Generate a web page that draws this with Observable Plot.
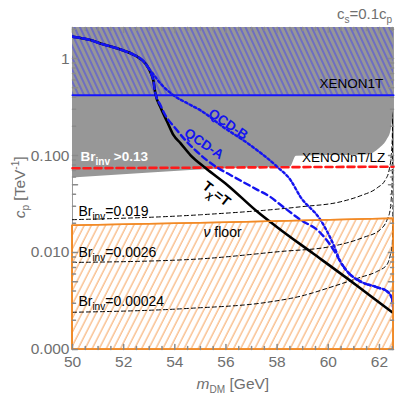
<!DOCTYPE html>
<html><head><meta charset="utf-8">
<script src="https://cdn.jsdelivr.net/npm/d3@7"></script>
<script src="https://cdn.jsdelivr.net/npm/@observablehq/plot@0.6"></script>
<style>body{margin:0;background:#fff}</style>
</head><body><div id="chart"></div>
<script>
// ---- axes ----
const xDomain = [50, 62.55];
const yDomain = [0.001, 2.09];
const xTicks = [50, 52, 54, 56, 58, 60, 62];
const xMinor = [50.5, 51, 51.5, 52.5, 53, 53.5, 54.5, 55, 55.5, 56.5, 57, 57.5, 58.5, 59, 59.5, 60.5, 61, 61.5, 62.5];
const yTicks = [0.001, 0.005, 0.01, 0.05, 0.1, 0.5, 1];
const yTickLabels = ["0.000", "0.005", "0.010", "0.050", "0.100", "0.500", "1"];
const yMinor = [0.002, 0.003, 0.004, 0.006, 0.007, 0.008, 0.009, 0.02, 0.03, 0.04, 0.06, 0.07, 0.08, 0.09, 0.2, 0.3, 0.4, 0.6, 0.7, 0.8, 0.9, 2];

// ---- curves ----
const blackM = [50, 50.7, 51.09, 51.88, 52.46, 52.85, 53.05, 53.16, 53.24, 53.44, 53.71, 53.95, 54.22, 54.61, 55.2, 56.05, 57.23, 58.13, 59.41, 60.74, 61.64, 62.5];
const blackC = [1.68, 1.55, 1.43, 1.24, 1.07, 0.89, 0.72, 0.595, 0.4375, 0.3146, 0.2207, 0.1623, 0.1343, 0.1012, 0.0744, 0.0498, 0.0263, 0.0172, 0.00977, 0.00541, 0.00358, 0.00242];

const qcdAM = [50, 50.7, 51.09, 51.88, 52.46, 52.85, 53.05, 53.16, 53.24, 53.44, 53.63, 54.02, 54.41, 54.8, 55.2, 55.66, 56.17, 57.23, 57.73, 58.13, 58.91, 59.69, 60.2, 60.47, 60.74, 61.25, 61.91, 62.3, 62.5, 62.54];
const qcdAC = [1.68, 1.55, 1.43, 1.24, 1.07, 0.89, 0.72, 0.595, 0.4375, 0.3296, 0.2602, 0.1914, 0.1442, 0.1138, 0.0918, 0.0752, 0.0631, 0.0443, 0.0375, 0.0311, 0.0218, 0.016, 0.0107, 0.00809, 0.00639, 0.00504, 0.00438, 0.00398, 0.0033, 0.0026];

const qcdBM = [50, 50.7, 51.09, 51.88, 52.46, 52.66, 53.05, 53.44, 53.95, 54.49, 55.0, 55.9, 56.84, 58.01, 58.52, 58.91, 59.69, 60.2, 60.47, 60.74, 61.25, 61.91, 62.3, 62.5, 62.54];
const qcdBC = [1.68, 1.55, 1.43, 1.24, 1.07, 1.0, 0.753, 0.554, 0.4174, 0.3455, 0.2929, 0.196, 0.1343, 0.0762, 0.0561, 0.0375, 0.0218, 0.0121, 0.00809, 0.00639, 0.00504, 0.00438, 0.00398, 0.0033, 0.0026];

const br019M = [50, 55, 58.91, 60.47, 61.25, 61.91, 62.23, 62.38, 62.46, 62.5, 62.52];
const br019C = [0.0218, 0.0245, 0.0296, 0.0333, 0.0384, 0.0464, 0.0561, 0.071, 0.0988, 0.144, 0.3];
const br0026M = [50, 54.61, 58.13, 60.08, 61.37, 62.03, 62.3, 62.42, 62.46, 62.5, 62.52];
const br0026C = [0.0079, 0.00848, 0.01024, 0.0115, 0.0143, 0.0172, 0.0218, 0.0276, 0.035, 0.0561, 0.3];
const br00024M = [50, 54.61, 57.62, 58.91, 60.2, 61.25, 61.91, 62.3, 62.42, 62.5, 62.53, 62.54];
const br00024C = [0.00242, 0.00266, 0.00307, 0.00354, 0.00448, 0.00554, 0.00639, 0.00753, 0.0093, 0.0121, 0.035, 0.3];

// ---- regions ----
const grayM = [50, 53.05, 56.17, 58.52, 58.75, 61.52, 62.03, 62.3, 62.46, 62.55];
const grayC = [0.0588, 0.0661, 0.0735, 0.0762, 0.0985, 0.1012, 0.1194, 0.1442, 0.183, 0.293];
const orangeM = [50, 56, 62.55];
const orangeC = [0.0189, 0.0203, 0.0223];
const redM = [50, 62.55];
const redC = [0.0739, 0.0768];
const xenon1tM = [50, 62.55];
const xenon1tC = [0.4174, 0.4174];

// ---- labels ----
const expTexts = ["XENON1T", "XENONnT/LZ"];
const expX = [62.15, 62.23];
const expY = [0.554, 0.0943];
const brTexts = ["Br_{inv}=0.019", "Br_{inv}=0.0026", "Br_{inv}=0.00024"];
const brX = [50.23, 50.23, 50.23];
const brY = [0.0263, 0.0100, 0.00311];
const brHighText = ["Br_{inv} >0.13"];
const brHighX = [50.31];
const brHighY = [0.0977];
const qcdTexts = ["QCD-B", "QCD-A"];
const qcdX = [56.09, 55.14];
const qcdY = [0.210, 0.132];
const txText = ["T_{χ}=T"];
const txX = [55.63];
const txY = [0.0403];
const nuText = ["*ν* floor"];
const nuX = [55.12];
const nuY = [0.016];
const titleText = ["c_{s}=0.1c_{p}"];
const titleX = [62.5];
const titleY = [2.89];
const xLabelText = ["*m*_{DM} [GeV]"];
const xLabelX = [56.27];
const xLabelY = [0.00044];
const yLabelText = ["*c*_{p} [TeV^{-1}]"];
const yLabelX = [47.95];
const yLabelY = [0.047];

const zip = (ms, cs) => ms.map((m, i) => ({m, c: cs[i]}));
const shapeLine = {draw(ctx, l) { ctx.moveTo(0, 0); ctx.lineTo(0, -l); }};
const tickColor = "#8a8a8a";
const font = "Liberation Sans, Arial, sans-serif";
const smooth = "monotone-x";

const plot = Plot.plot({
  width: 399, height: 397,
  marginLeft: 72, marginRight: 6, marginTop: 27, marginBottom: 48,
  style: {fontFamily: font, background: "#fff"},
  x: {domain: xDomain, label: null},
  y: {type: "log", domain: yDomain, label: null},
  marks: [
    Plot.frame({stroke: "#9a9a9a"}),
    // neutrino floor region
    Plot.areaY(zip(orangeM, orangeC), {x: "m", y1: yDomain[0], y2: "c", fill: "url(#orangeHatch)", stroke: "#f28a26", strokeWidth: 1.6}),
    // Br_inv contours
    Plot.line(zip(br019M, br019C), {x: "m", y: "c", stroke: "#000", strokeWidth: 1, strokeDasharray: "4,3", curve: smooth, clip: true}),
    Plot.line(zip(br0026M, br0026C), {x: "m", y: "c", stroke: "#000", strokeWidth: 1, strokeDasharray: "4,3", curve: smooth, clip: true}),
    Plot.line(zip(br00024M, br00024C), {x: "m", y: "c", stroke: "#000", strokeWidth: 1, strokeDasharray: "4,3", curve: smooth, clip: true}),
    // Br_inv > 0.13 excluded region
    Plot.areaY(zip(grayM, grayC), {x: "m", y1: "c", y2: yDomain[1], fill: "#979797", curve: smooth, clip: true}),
    // XENON1T region
    Plot.areaY(zip(xenon1tM, xenon1tC), {x: "m", y1: "c", y2: yDomain[1], fill: "url(#blueHatch)"}),
    Plot.line(zip(xenon1tM, xenon1tC), {x: "m", y: "c", stroke: "#1414ff", strokeWidth: 2}),
    // XENONnT/LZ
    Plot.line(zip(redM, redC), {x: "m", y: "c", stroke: "#ff1a1a", strokeWidth: 2.6, strokeDasharray: "7,4"}),
    // relic curves
    Plot.line(zip(blackM, blackC), {x: "m", y: "c", stroke: "#000", strokeWidth: 2.6, curve: smooth, clip: true}),
    Plot.line(zip(qcdAM, qcdAC), {x: "m", y: "c", stroke: "#1414f0", strokeWidth: 2.4, strokeDasharray: "6,4", curve: smooth, clip: true}),
    Plot.line(zip(qcdBM, qcdBC), {x: "m", y: "c", stroke: "#1414f0", strokeWidth: 2.4, strokeDasharray: "2.4,2.6", curve: smooth, clip: true}),
    // region outline again on top of frame
    Plot.areaY(zip(orangeM, orangeC), {x: "m", y1: yDomain[0], y2: "c", fill: "none", stroke: "#f28a26", strokeWidth: 1.6}),
    // ticks (inward)
    Plot.vector(xTicks, {x: d => d, y: yDomain[0], length: 5, rotate: 0, anchor: "start", shape: shapeLine, stroke: tickColor}),
    Plot.vector(xMinor, {x: d => d, y: yDomain[0], length: 3, rotate: 0, anchor: "start", shape: shapeLine, stroke: tickColor}),
    Plot.vector(xTicks, {x: d => d, y: yDomain[1], length: 5, rotate: 180, anchor: "start", shape: shapeLine, stroke: tickColor}),
    Plot.vector(xMinor, {x: d => d, y: yDomain[1], length: 3, rotate: 180, anchor: "start", shape: shapeLine, stroke: tickColor}),
    Plot.vector(yTicks, {x: xDomain[0], y: d => d, length: 5, rotate: 90, anchor: "start", shape: shapeLine, stroke: tickColor}),
    Plot.vector(yMinor, {x: xDomain[0], y: d => d, length: 3, rotate: 90, anchor: "start", shape: shapeLine, stroke: tickColor}),
    Plot.vector(yTicks, {x: xDomain[1], y: d => d, length: 5, rotate: -90, anchor: "start", shape: shapeLine, stroke: tickColor}),
    Plot.vector(yMinor, {x: xDomain[1], y: d => d, length: 3, rotate: -90, anchor: "start", shape: shapeLine, stroke: tickColor}),
    // axes
    Plot.axisX(xTicks, {tickSize: 0, tickPadding: 6, fontSize: 15.5, color: "#6f6f6f", label: null}),
    Plot.axisY(yTicks, {tickSize: 0, tickPadding: 3, fontSize: 15.5, color: "#6f6f6f", label: null,
      tickFormat: d => yTickLabels[yTicks.indexOf(d)]}),
    // labels
    Plot.text(expTexts, {x: expX, y: expY, text: d => d, textAnchor: "end", fontSize: 13.5, fill: "#000"}),
    Plot.text(brTexts, {x: brX, y: brY, text: d => d, textAnchor: "start", fontSize: 14, fill: "#000"}),
    Plot.text(brHighText, {x: brHighX, y: brHighY, text: d => d, textAnchor: "start", fontSize: 13.5, fontWeight: "bold", fill: "#fff"}),
    Plot.text(qcdTexts, {x: qcdX, y: qcdY, text: d => d, rotate: 34, fontSize: 13.5, fontWeight: "bold", fill: "#1414f0"}),
    Plot.text(txText, {x: txX, y: txY, text: d => d, rotate: 38, fontSize: 14, fontWeight: "bold", fill: "#000"}),
    Plot.text(nuText, {x: nuX, y: nuY, text: d => d, textAnchor: "start", fontSize: 14, fill: "#000"}),
    Plot.text(titleText, {x: titleX, y: titleY, text: d => d, textAnchor: "end", fontSize: 15, fill: "#6f6f6f"}),
    Plot.text(xLabelText, {x: xLabelX, y: xLabelY, text: d => d, fontSize: 15.5, fill: "#6f6f6f"}),
    Plot.text(yLabelText, {x: yLabelX, y: yLabelY, text: d => d, rotate: -90, fontSize: 15.5, fill: "#6f6f6f"})
  ]
});

// hatch patterns
const svg = d3.select(plot);
const defs = svg.insert("defs", ":first-child");
const bp = defs.append("pattern").attr("id", "blueHatch").attr("patternUnits", "userSpaceOnUse")
  .attr("width", 5).attr("height", 10).attr("patternTransform", "rotate(-25)");
bp.append("line").attr("x1", 1).attr("y1", -1).attr("x2", 1).attr("y2", 11)
  .attr("stroke", "#3030ff").attr("stroke-width", 1).attr("stroke-opacity", 0.8);
const op = defs.append("pattern").attr("id", "orangeHatch").attr("patternUnits", "userSpaceOnUse")
  .attr("width", 6.3).attr("height", 10).attr("patternTransform", "rotate(27)");
op.append("line").attr("x1", 1).attr("y1", -1).attr("x2", 1).attr("y2", 11)
  .attr("stroke", "#f6a25a").attr("stroke-width", 1);

// rich text: _{sub}, ^{sup}, *italic*
svg.selectAll("text").each(function () {
  const t = this.textContent;
  if (!/[_^*]/.test(t)) return;
  const fs = parseFloat(getComputedStyle(this).fontSize) || 14;
  const el = d3.select(this);
  el.text(null);
  const re = /([_^])\{([^}]*)\}|\*([^*]*)\*|([^_^*]+)/g;
  let m, cur = 0;
  while ((m = re.exec(t))) {
    const ts = el.append("tspan");
    let target = 0;
    if (m[1]) {
      target = m[1] === "_" ? 0.28 * fs : -0.42 * fs;
      ts.attr("font-size", (0.72 * fs) + "px").text(m[2]);
    } else if (m[3] != null) {
      ts.attr("font-style", "italic").text(m[3]);
    } else {
      ts.text(m[4]);
    }
    if (target !== cur) ts.attr("dy", target - cur);
    cur = target;
  }
});

document.getElementById("chart").appendChild(plot);
</script>
</body></html>
